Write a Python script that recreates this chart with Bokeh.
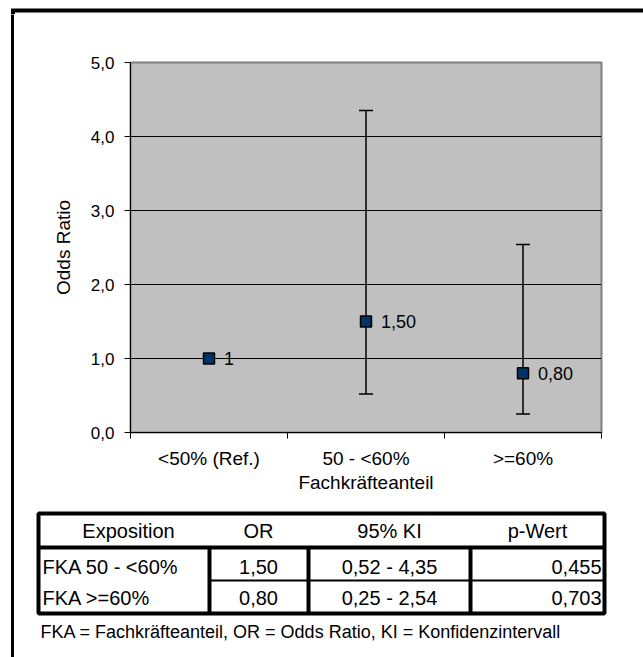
from bokeh.plotting import figure
from bokeh.models import Range1d, FixedTicker, Whisker, TeeHead, ColumnDataSource
from bokeh.layouts import column, row
from bokeh.embed import file_html
from bokeh.resources import INLINE
from bokeh.core.properties import value

# ---------------- data ----------------
categories = ["<50% (Ref.)", "50 - <60%", ">=60%"]
odds_ratio = [1.0, 1.50, 0.80]
ci_lower = [None, 0.52, 0.25]
ci_upper = [None, 4.35, 2.54]
point_labels = ["1", "1,50", "0,80"]
y_ticks = [0, 1, 2, 3, 4, 5]
y_tick_labels = ["0,0", "1,0", "2,0", "3,0", "4,0", "5,0"]

table_header = ["Exposition", "OR", "95% KI", "p-Wert"]
table_exposure = ["FKA 50 - <60%", "FKA >=60%"]
table_or = ["1,50", "0,80"]
table_ci = ["0,52 - 4,35", "0,25 - 2,54"]
table_p = ["0,455", "0,703"]
footnote = "FKA = Fachkräfteanteil, OR = Odds Ratio, KI = Konfidenzintervall"

FONT = "Liberation Sans"
W, H = 643, 657
TOP_H, LEFT_W, CHART_H = 14, 14, 486
TABLE_H = H - TOP_H - CHART_H


def pixel_fig(x0, x1, h):
    f = figure(width=x1 - x0, height=h, x_range=Range1d(x0, x1), y_range=Range1d(h, 0),
               output_backend="svg", toolbar_location=None, min_border=0,
               x_axis_type=None, y_axis_type=None)
    f.outline_line_color = None
    f.border_fill_color = "white"
    f.background_fill_color = "white"
    f.frame_align = False
    for g in f.grid:
        g.visible = False
    return f


# ---------------- outer frame strips ----------------
top_strip = pixel_fig(0, W, TOP_H)
top_strip.segment(x0=[10.5], y0=[10], x1=[W + 10], y1=[10], line_color="black", line_width=4)
top_strip.segment(x0=[12.5], y0=[10], x1=[12.5], y1=[TOP_H + 10], line_color="black", line_width=4)

left_strip = pixel_fig(0, LEFT_W, H - TOP_H)
left_strip.segment(x0=[12.5], y0=[-10], x1=[12.5], y1=[H + 10], line_color="black", line_width=4)

# ---------------- chart ----------------
pa = figure(width=W - LEFT_W, height=CHART_H, x_range=Range1d(0, len(categories)), y_range=Range1d(0, 5),
            output_backend="svg", toolbar_location=None,
            min_border_left=130 - LEFT_W, min_border_right=42, min_border_top=62 - TOP_H,
            min_border_bottom=68)
pa.frame_align = False
pa.background_fill_color = "#C0C0C0"
pa.border_fill_color = "white"
pa.outline_line_color = "#808080"
pa.outline_line_width = 2

pa.xgrid.visible = False
pa.ygrid.ticker = FixedTicker(ticks=[t for t in y_ticks if 0 < t < max(y_ticks)])
pa.ygrid.grid_line_color = "black"
pa.ygrid.grid_line_width = 1

x_pos = [i + 0.5 for i in range(len(categories))]
x_bounds = list(range(len(categories) + 1))

pa.yaxis.ticker = FixedTicker(ticks=y_ticks)
pa.yaxis.major_label_overrides = dict(zip(y_ticks, y_tick_labels))
pa.yaxis.major_tick_out = 6
pa.yaxis.major_tick_in = 0
pa.yaxis.minor_tick_line_color = None
pa.yaxis.axis_line_color = "black"
pa.yaxis.major_tick_line_color = "black"
pa.yaxis.major_label_text_font = FONT
pa.yaxis.major_label_text_font_size = "17px"
pa.yaxis.major_label_text_color = "black"
pa.yaxis.major_label_standoff = 10
pa.yaxis.axis_label = "Odds Ratio"
pa.yaxis.axis_label_text_font = FONT
pa.yaxis.axis_label_text_font_size = "19px"
pa.yaxis.axis_label_text_font_style = "normal"
pa.yaxis.axis_label_text_color = "black"
pa.yaxis.axis_label_standoff = 14

pa.xaxis.ticker = FixedTicker(ticks=x_pos, minor_ticks=x_bounds)
pa.xaxis.major_label_overrides = dict(zip(x_pos, categories))
pa.xaxis.major_tick_line_color = None
pa.xaxis.minor_tick_line_color = "black"
pa.xaxis.minor_tick_out = 6
pa.xaxis.minor_tick_in = 0
pa.xaxis.axis_line_color = "black"
pa.xaxis.major_label_text_font = FONT
pa.xaxis.major_label_text_font_size = "19px"
pa.xaxis.major_label_text_color = "black"
pa.xaxis.major_label_standoff = 9
pa.xaxis.axis_label = "Fachkräfteanteil"
pa.xaxis.axis_label_text_font = FONT
pa.xaxis.axis_label_text_font_size = "19px"
pa.xaxis.axis_label_text_font_style = "normal"
pa.xaxis.axis_label_text_color = "black"
pa.xaxis.axis_label_standoff = 0

ci_rows = [i for i in range(len(categories)) if ci_lower[i] is not None]
ci_src = ColumnDataSource(dict(
    x=[x_pos[i] for i in ci_rows],
    lower=[ci_lower[i] for i in ci_rows],
    upper=[ci_upper[i] for i in ci_rows],
))
pa.add_layout(Whisker(base="x", lower="lower", upper="upper", source=ci_src,
                      line_color="black", line_width=1.5,
                      upper_head=TeeHead(size=14, line_color="black", line_width=1.5),
                      lower_head=TeeHead(size=14, line_color="black", line_width=1.5)))

pa.scatter(x_pos, odds_ratio, marker="square", size=11, fill_color="#003366",
           line_color="black", line_width=1.5)
pa.text(x_pos, odds_ratio, text=point_labels, x_offset=15, text_align="left",
        text_baseline="middle", text_font=value(FONT), text_font_size="18px", text_color="black")

# ---------------- table (page x coordinates, y relative to this strip) ----------------
pb = pixel_fig(LEFT_W, W, TABLE_H)

col_edges = [38, 209, 308, 470, 604]
row_lines = [13, 47, 80, 113]
header_x = [128, 258, 389, 537]
header_y = 30
row_y = [66, 97]

pb.quad(left=[col_edges[0]], right=[col_edges[-1]], top=[row_lines[0]], bottom=[row_lines[-1]],
        fill_color=None, line_color="black", line_width=4)
pb.segment(x0=[col_edges[0]], y0=[row_lines[1]], x1=[col_edges[-1]], y1=[row_lines[1]],
           line_color="black", line_width=4)
pb.segment(x0=col_edges[1:-1], y0=[row_lines[1]] * 3, x1=col_edges[1:-1], y1=[row_lines[-1]] * 3,
           line_color="black", line_width=4)
pb.segment(x0=[col_edges[1]], y0=[row_lines[2]], x1=[col_edges[-1]], y1=[row_lines[2]],
           line_color="black", line_width=2)

tf = value(FONT)
pb.text(header_x, [header_y] * 4, text=table_header, text_align="center", text_baseline="middle",
        text_font=tf, text_font_size="20px", text_color="black")
pb.text([42] * 2, row_y, text=table_exposure, text_align="left", text_baseline="middle",
        text_font=tf, text_font_size="20px", text_color="black")
pb.text([258] * 2, row_y, text=table_or, text_align="center", text_baseline="middle",
        text_font=tf, text_font_size="20px", text_color="black")
pb.text([389] * 2, row_y, text=table_ci, text_align="center", text_baseline="middle",
        text_font=tf, text_font_size="20px", text_color="black")
pb.text([601] * 2, row_y, text=table_p, text_align="right", text_baseline="middle",
        text_font=tf, text_font_size="20px", text_color="black")
pb.text([40], [131], text=[footnote], text_align="left", text_baseline="middle",
        text_font=tf, text_font_size="18px", text_color="black")

layout = column(top_strip, row(left_strip, column(pa, pb, spacing=0), spacing=0), spacing=0)
open("out.html", "w").write(file_html(layout, INLINE))
